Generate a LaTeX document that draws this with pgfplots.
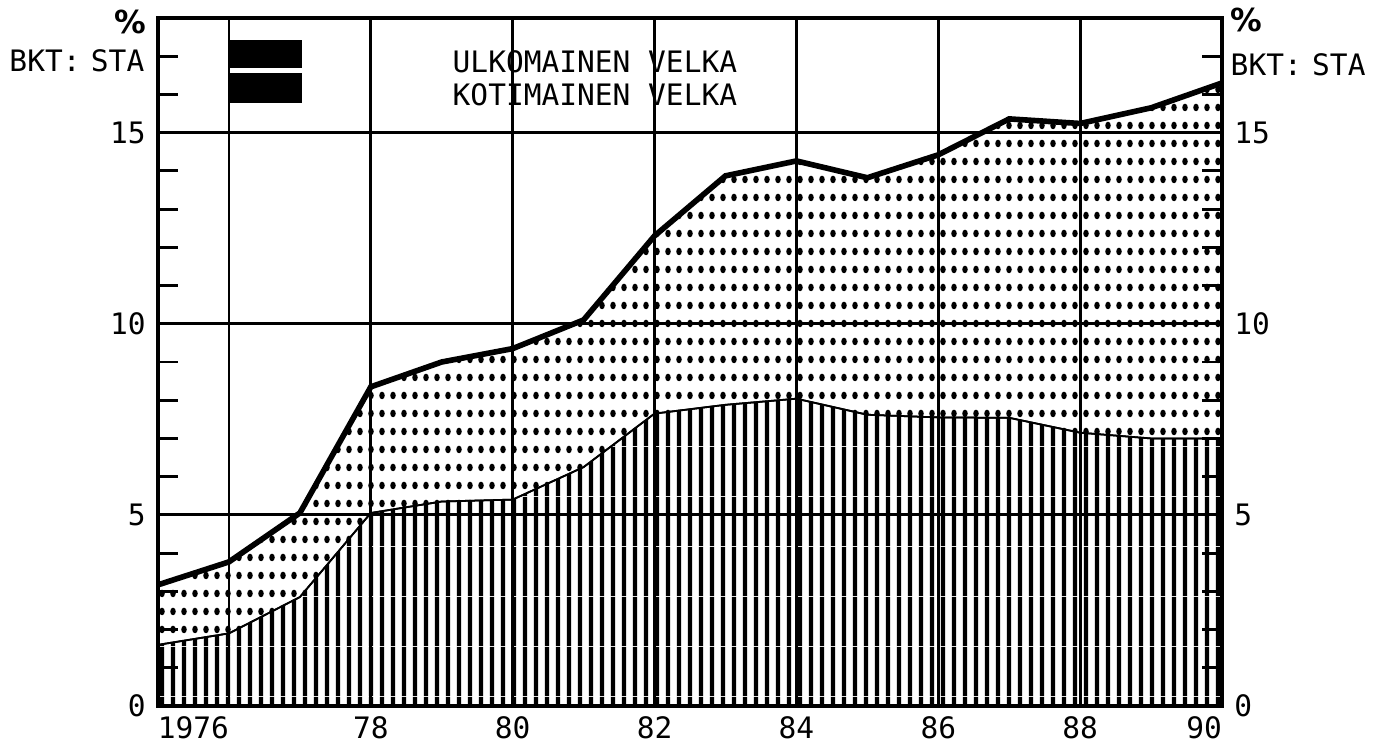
\documentclass[border=0pt]{standalone}
\usepackage{pgfplots}
\pgfplotsset{compat=1.18}
\usepackage{pgfplotstable}
\usetikzlibrary{patterns.meta}
\usepackage{fontspec}
\setmainfont{DejaVu Sans Mono}
\newfontfamily\pctfont{DejaVu Sans Bold}

\pgfdeclarepattern{
  name=vstripes, type=uncolored,
  bottom left={\pgfpointorigin}, top right={\pgfpoint{1.05mm}{5mm}},
  tile size={\pgfpoint{1.05mm}{5mm}},
  code={\pgfpathrectangle{\pgfpoint{0.3mm}{0mm}}{\pgfpoint{0.45mm}{5mm}}\pgfusepath{fill}}
}
\pgfdeclarepattern{
  name=edots, type=uncolored,
  bottom left={\pgfpointorigin}, top right={\pgfpoint{1.05mm}{1.8mm}},
  tile size={\pgfpoint{1.05mm}{1.8mm}},
  code={\pgfpathellipse{\pgfpoint{0.525mm}{0.9mm}}{\pgfpoint{0.29mm}{0mm}}{\pgfpoint{0mm}{0.4mm}}\pgfusepath{fill}}
}

\pgfplotstableread{
year total
1975 3.17
1976 3.77
1977 5.05
1978 8.35
1979 9.0
1980 9.35
1981 10.1
1982 12.3
1983 13.87
1984 14.26
1985 13.82
1986 14.42
1987 15.36
1988 15.24
1989 15.65
1990 16.3
}\toptable
\pgfplotstableread{
year domestic
1975 1.6
1976 1.9
1977 2.85
1978 5.05
1979 5.35
1980 5.4
1981 6.25
1982 7.65
1983 7.88
1984 8.04
1985 7.62
1986 7.55
1987 7.54
1988 7.15
1989 7.0
1990 7.0
}\lowtable

\newcommand{\lblfont}{\fontsize{8.4}{10}\selectfont}

\begin{document}
\begin{tikzpicture}
\path[use as bounding box] (-15.8mm,-3.9mm) rectangle (122.6mm,70.6mm);
\begin{axis}[
  scale only axis, width=106.4mm, height=68.8mm,
  xmin=1975, xmax=1990, ymin=0, ymax=18,
  axis on top,
  axis line style={line width=1pt},
  xtick={1976,1978,...,1990},
  xticklabels={\llap{1976},78,80,82,84,86,88,\llap{90}},
  xtick style={draw=none},
  ytick={0,5,10,15},
  minor ytick={1,2,3,4,6,7,8,9,11,12,13,14,16,17},
  ytick pos=both, yticklabel pos=left,
  tick align=inside,
  major tick length=0pt, minor tick length=2mm,
  minor tick style={line width=0.8pt, black},
  grid=major, major grid style={line width=0.8pt, black},
  ticklabel style={font=\lblfont},
  xticklabel style={yshift=0.15mm},
  /pgf/number format/assume math mode=true,
]
\addplot[draw=none, pattern=edots] table[x=year,y=total] {\toptable} \closedcycle;
\addplot[draw=black, line width=0.5pt, fill=white, postaction={pattern=vstripes}] table[x=year,y=domestic] {\lowtable} \closedcycle;
\addplot[line width=1.6pt, black] table[x=year,y=total] {\toptable};
\end{axis}
\begin{axis}[
  scale only axis, width=106.4mm, height=68.8mm,
  xmin=1975, xmax=1990, ymin=0, ymax=18,
  axis line style={draw=none},
  xtick=\empty,
  ytick={0,5,10,15},
  ytick pos=right, yticklabel pos=right,
  ytick style={draw=none},
  ticklabel style={font=\lblfont},
  /pgf/number format/assume math mode=true,
]
\end{axis}
% legend and unit labels
\fill[black] (7.2mm,63.8mm) rectangle (14.4mm,66.6mm);
\fill[black] (7.0mm,60.3mm) rectangle (14.4mm,63.3mm);
\node[anchor=west, inner sep=0pt, font=\lblfont] at (29.4mm,64.4mm) {ULKOMAINEN VELKA};
\node[anchor=west, inner sep=0pt, font=\lblfont] at (29.4mm,61.1mm) {KOTIMAINEN VELKA};
\node[anchor=east, inner sep=0pt, font=\pctfont\fontsize{9}{10}\selectfont] at (-1.1mm,68.4mm) {\%};
\node[anchor=east, inner sep=0pt, font=\lblfont] at (-1.3mm,64.5mm) {BKT:\kern-0.25em\ STA};
\node[anchor=west, inner sep=0pt, font=\pctfont\fontsize{9}{10}\selectfont] at (107.2mm,68.6mm) {\%};
\node[anchor=west, inner sep=0pt, font=\lblfont] at (107.2mm,64.1mm) {BKT:\kern-0.25em\ STA};
\end{tikzpicture}
\end{document}
